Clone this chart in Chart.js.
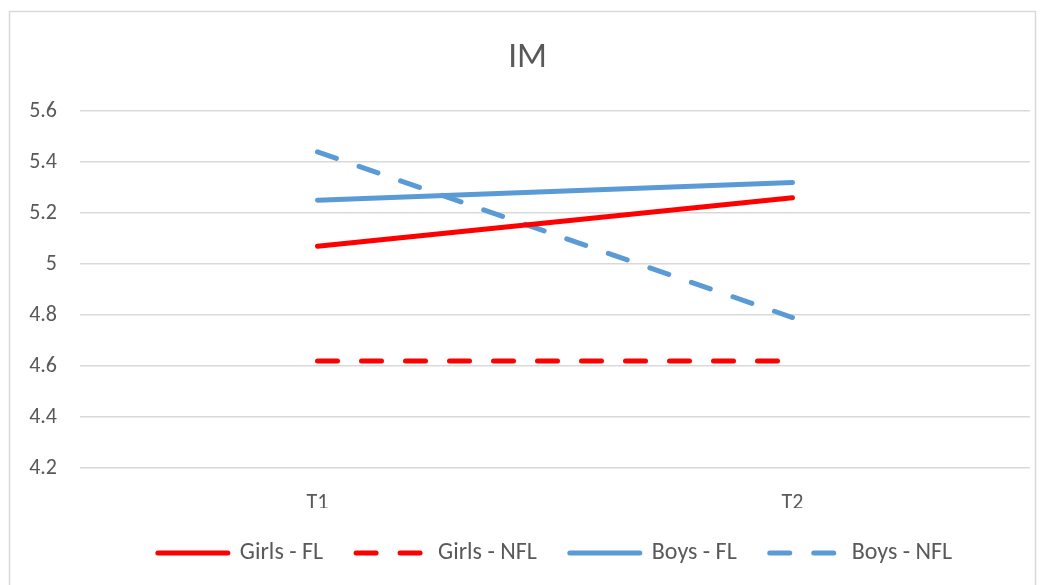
<!DOCTYPE html>
<html>
<head>
<meta charset="utf-8">
<title>IM</title>
<script src="https://cdn.jsdelivr.net/npm/chart.js@4/dist/chart.umd.min.js"></script>
<style>
  html, body { margin: 0; padding: 0; background: #fff; }
  #wrap { width: 1046px; height: 585px; }
</style>
</head>
<body>
<div id="wrap"><canvas id="chart" width="1046" height="585"></canvas></div>
<script>
// values
const categories = ["T1", "T2"];
const girlsFL = [5.07, 5.26];
const girlsNFL = [4.62, 4.62];
const boysFL = [5.25, 5.32];
const boysNFL = [5.44, 4.79];
const yTicks = [4.2, 4.4, 4.6, 4.8, 5.0, 5.2, 5.4, 5.6];

const RED = "#ff0000";
const BLUE = "#5b9bd5";
const TEXT = "#595959";
const FONT = "'Carlito', 'Liberation Sans', sans-serif";
const DASH = [20, 24];

// light frame round the chart, like the Excel chart border
const frame = {
  id: "frame",
  beforeDraw(chart) {
    const ctx = chart.ctx;
    ctx.save();
    ctx.fillStyle = "#fff";
    ctx.fillRect(0, 0, chart.width, chart.height);
    ctx.strokeStyle = "#d9d9d9";
    ctx.lineWidth = 1.5;
    ctx.strokeRect(9.5, 11.5, 1026, 620);
    ctx.restore();
  }
};

function series(label, data, color, dashed) {
  return {
    label: label,
    data: data,
    borderColor: color,
    backgroundColor: color,
    borderWidth: 5,
    borderCapStyle: "round",
    borderDash: dashed ? DASH : [],
    pointRadius: 0,
    pointHoverRadius: 0,
    tension: 0,
    fill: false
  };
}

new Chart(document.getElementById("chart").getContext("2d"), {
  type: "line",
  data: {
    labels: categories,
    datasets: [
      series("Girls - FL", girlsFL, RED, false),
      series("Girls - NFL", girlsNFL, RED, true),
      series("Boys - FL", boysFL, BLUE, false),
      series("Boys - NFL", boysNFL, BLUE, true)
    ]
  },
  options: {
    responsive: false,
    animation: false,
    layout: { padding: { top: 20, right: 16, bottom: 10, left: 25 } },
    plugins: {
      title: {
        display: true,
        text: "IM",
        color: TEXT,
        font: { family: FONT, size: 35, weight: "normal", lineHeight: 1.2 },
        padding: { top: 17, bottom: 32 }
      },
      legend: {
        position: "bottom",
        fullSize: false,
        labels: {
          usePointStyle: true,
          pointStyle: "line",
          pointStyleWidth: 70,
          color: TEXT,
          font: { family: FONT, size: 24 },
          padding: 33,
          // the point style drops the dash, so take it from the dataset
          generateLabels(chart) {
            const items = Chart.defaults.plugins.legend.labels.generateLabels(chart);
            items.forEach(item => {
              const ds = chart.data.datasets[item.datasetIndex];
              item.lineDash = ds.borderDash;
              item.lineCap = "round";
              item.lineWidth = 5;
              item.strokeStyle = ds.borderColor;
            });
            return items;
          }
        }
      },
      tooltip: { enabled: false }
    },
    scales: {
      x: {
        offset: true,
        afterFit(scale) {
          scale.height = 40;
        },
        grid: { display: false },
        border: { display: false },
        ticks: {
          color: TEXT,
          font: { family: FONT, size: 22 },
          padding: 14
        }
      },
      y: {
        min: 4.2,
        max: 5.6,
        afterBuildTicks(scale) {
          scale.ticks = yTicks.map(v => ({ value: v }));
        },
        afterFit(scale) {
          scale.width = 55;
        },
        grid: { color: "#d9d9d9", lineWidth: 1.5, drawTicks: false },
        border: { display: false },
        ticks: {
          color: TEXT,
          font: { family: FONT, size: 22 },
          padding: 23,
          callback: v => String(Number(v.toFixed(1)))
        }
      }
    }
  },
  plugins: [frame]
});
</script>
</body>
</html>
